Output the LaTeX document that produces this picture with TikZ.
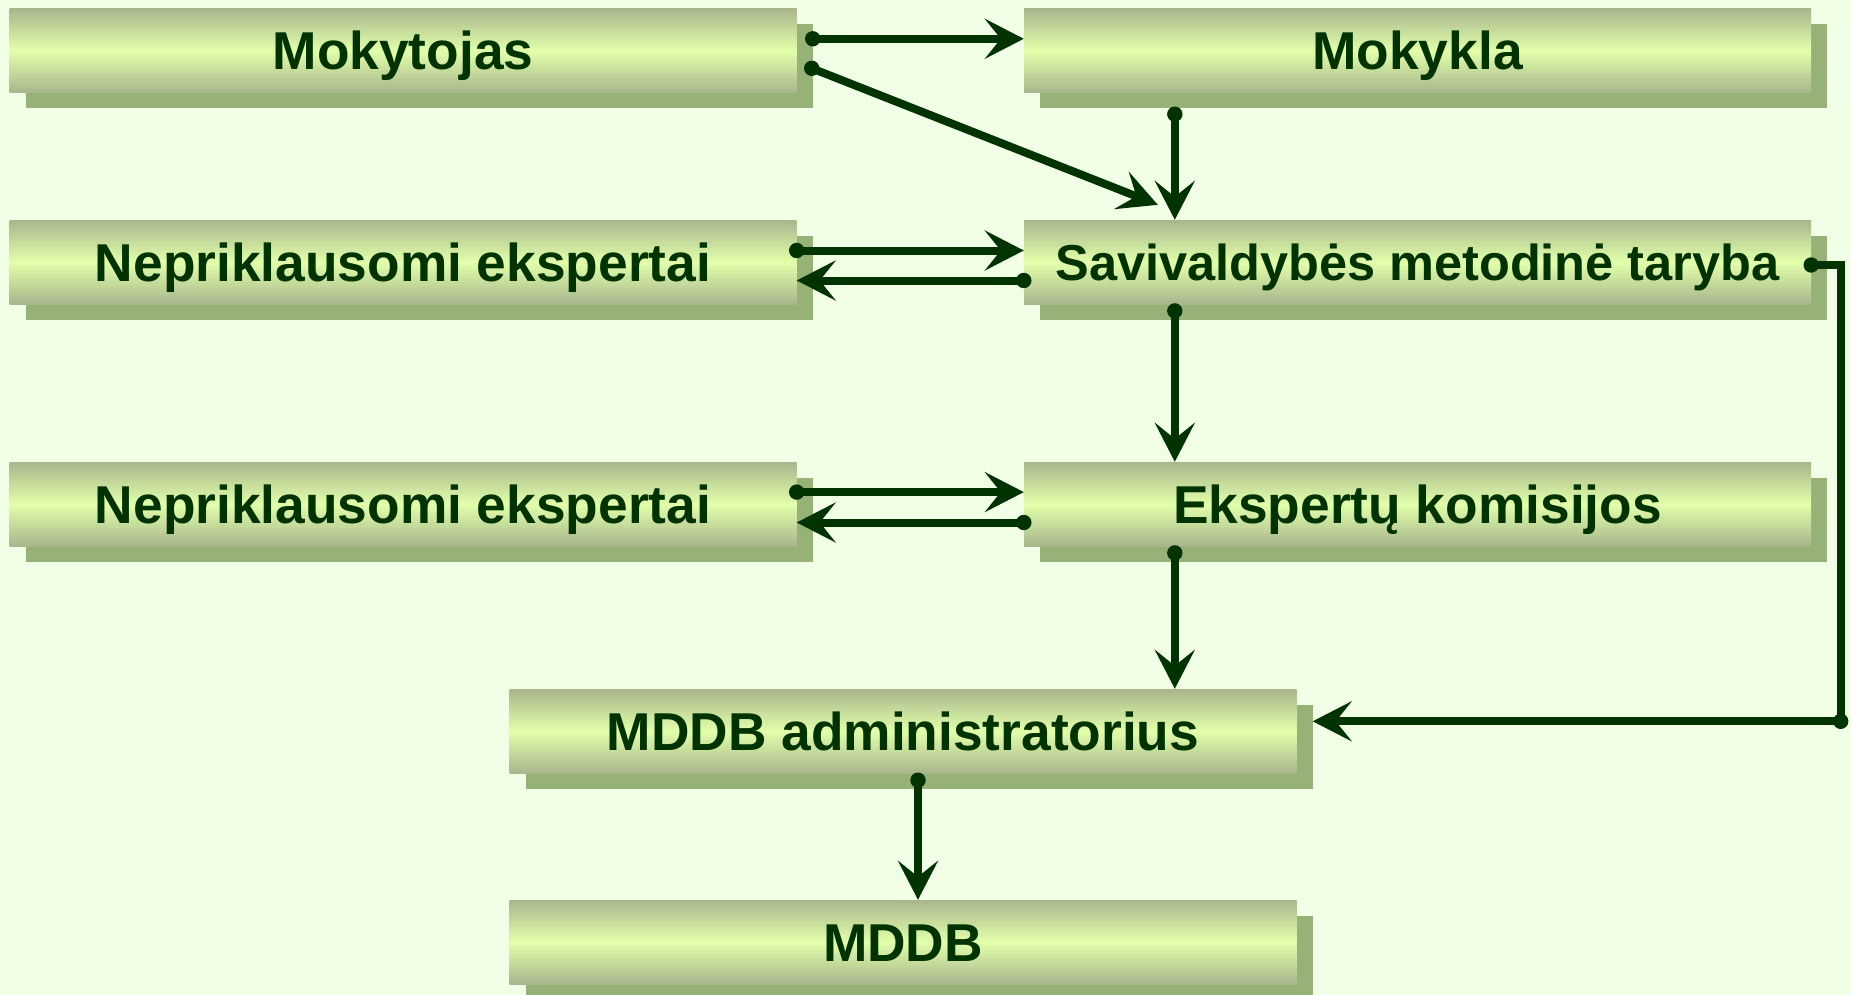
\documentclass[tikz,border=0pt]{standalone}
\usepackage{fontspec}
\setmainfont{Liberation Sans}
\usetikzlibrary{arrows.meta,shadows,calc}
\definecolor{bgc}{RGB}{240,255,230}
\definecolor{dk}{RGB}{0,51,0}
\definecolor{shd}{RGB}{150,178,118}
\definecolor{edgec}{RGB}{168,182,140}
\definecolor{midc}{RGB}{226,255,170}
\newcommand\mydot[1]{\fill[dk] (#1) circle (7.7pt);}
\begin{document}
\begin{tikzpicture}[x=1pt,y=-1pt,
  box/.style={minimum width=787pt, minimum height=84pt, inner sep=0pt,
    top color=edgec, bottom color=edgec, middle color=midc,
    drop shadow={shadow xshift=16pt, shadow yshift=-16pt, fill=shd, opacity=1},
    font=\fontsize{53.3}{60}\selectfont\bfseries, text=dk,
    text height=38pt, text depth=0pt},
  smalltext/.style={font=\fontsize{50.5}{60}\selectfont\bfseries, text height=37pt},
  conn/.style={draw=dk, line width=8pt, -{Stealth[length=39pt,width=40pt,inset=16pt]}},
  plain/.style={draw=dk, line width=8pt, line join=miter},
]
\useasboundingbox (0,0) rectangle (1851,995);
\clip (0,0) rectangle (1851,995);
\fill[bgc] (0,0) rectangle (1851,995);

\node[box] (mok)     at (403,50.5)   {Mokytojas};
\node[box] (mokykla) at (1417.5,50.5) {Mokykla};
\node[box] (nep1)    at (403,262)    {Nepriklausomi ekspertai};
\node[box,smalltext] (sav) at (1417.5,262) {Savivaldybės metodinė taryba};
\node[box] (nep2)    at (403,504)    {Nepriklausomi ekspertai};
\node[box] (eksp)    at (1417.5,504) {Ekspertų komisijos};
\node[box] (admin)   at (903,731)    {MDDB administratorius};
\node[box] (mddb)    at (903,942)    {MDDB};

% Mokytojas -> Mokykla
\coordinate (a1) at ($(mok.north east)+(16,30.5)$);
\coordinate (b1) at (a1 -| mokykla.west);
\draw[conn] (a1) -- (b1);
% Mokytojas -> Savivaldybes (diagonal)
\coordinate (a2) at ($(mok.north east)+(15,60)$);
\coordinate (b2) at ($(sav.north west)+(134,-15)$);
\draw[conn] (a2) -- (b2);
% Mokykla -> Savivaldybes
\coordinate (a3) at ($(mokykla.south west)+(151,21.5)$);
\coordinate (b3) at (a3 |- sav.north);
\draw[conn] (a3) -- (b3);
% row 2
\coordinate (a4) at ($(nep1.north east)+(0,30.7)$);
\coordinate (b4) at (a4 -| sav.west);
\draw[conn] (a4) -- (b4);
\coordinate (a5) at ($(sav.north west)+(0,60.7)$);
\coordinate (b5) at (a5 -| nep1.east);
\draw[conn] (a5) -- (b5);
% Savivaldybes -> Ekspertu
\coordinate (a6) at ($(sav.south west)+(151,6.7)$);
\coordinate (b6) at (a6 |- eksp.north);
\draw[conn] (a6) -- (b6);
% row 3
\coordinate (a7) at ($(nep2.north east)+(0,30.3)$);
\coordinate (b7) at (a7 -| eksp.west);
\draw[conn] (a7) -- (b7);
\coordinate (a8) at ($(eksp.north west)+(0,60.7)$);
\coordinate (b8) at (a8 -| nep2.east);
\draw[conn] (a8) -- (b8);
% Ekspertu -> admin
\coordinate (a9) at ($(eksp.south west)+(151,6.7)$);
\coordinate (b9) at (a9 |- admin.north);
\draw[conn] (a9) -- (b9);
% admin -> MDDB
\coordinate (a10) at ($(admin.south)+(15,7)$);
\coordinate (b10) at (a10 |- mddb.north);
\draw[conn] (a10) -- (b10);
% Savivaldybes -> admin (elbow on the right)
\coordinate (a11) at ($(sav.east)+(0,3)$);
\coordinate (e1) at ($(sav.east)+(29.5,3)$);
\coordinate (t11) at ($(admin.north east)+(16,32.5)$);
\coordinate (e2) at (e1 |- t11);
\draw[plain] (a11) -- (e1) -- (e2);
\draw[conn] (e2) -- (t11);

\mydot{a1}\mydot{a2}\mydot{a3}\mydot{a4}\mydot{a5}\mydot{a6}
\mydot{a7}\mydot{a8}\mydot{a9}\mydot{a10}\mydot{a11}\mydot{e2}
\end{tikzpicture}
\end{document}
